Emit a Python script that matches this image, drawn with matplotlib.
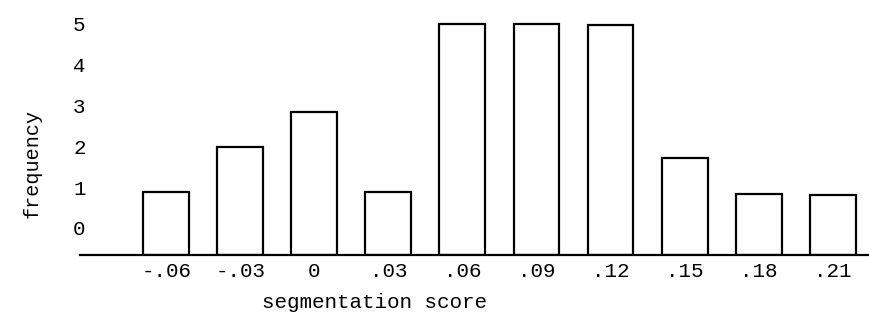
import numpy as np
import matplotlib.pyplot as plt

# segmentation score bins and the frequency drawn above each
scores = ['-.06', '-.03', '0', '.03', '.06', '.09', '.12', '.15', '.18', '.21']
frequency = [0.88, 1.98, 2.83, 0.88, 4.98, 4.98, 4.95, 1.71, 0.83, 0.80]
y_ticks = [0, 1, 2, 3, 4, 5]

# the hand-drawn baseline sits a little below the "0" label
baseline = -0.66

plt.rcParams['font.family'] = ['Liberation Mono', 'DejaVu Sans Mono']

fig = plt.figure(figsize=(8.7, 3.15), dpi=100)
ax = fig.add_axes([80 / 870, 60 / 315, 790 / 870, 240 / 315])

x = np.arange(len(scores))
heights = np.array(frequency) - baseline
ax.bar(x, heights, bottom=baseline, width=0.62, facecolor='white',
       edgecolor='black', linewidth=1.6)

ax.set_xlim(-1.164, 9.504)
ax.set_ylim(baseline, 5.2)

for side in ['top', 'right', 'left']:
    ax.spines[side].set_visible(False)
ax.spines['bottom'].set_linewidth(1.6)

ax.set_xticks(x)
ax.set_xticklabels(scores, fontsize=15)
ax.set_yticks(y_ticks)
ax.set_yticklabels([str(v) for v in y_ticks], fontsize=15)
ax.tick_params(axis='x', length=0, pad=5)
ax.tick_params(axis='y', length=0, pad=-4)

fig.text(262 / 870, 1 - 303 / 315, 'segmentation score', fontsize=15,
         ha='left', va='center')
fig.text(32 / 870, 1 - 163 / 315, 'frequency', fontsize=14.5, rotation=90,
         ha='center', va='center')

fig.savefig('out.png', dpi=100)
